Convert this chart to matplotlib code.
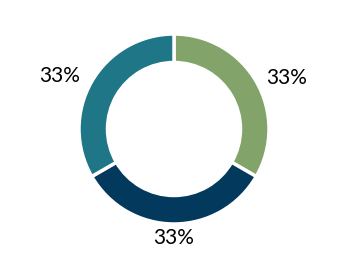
import matplotlib
matplotlib.use("Agg")
import matplotlib.pyplot as plt

# slice data, clockwise from 12 o'clock
shares = [1, 1, 1]
colors = ["#82A36A", "#03395C", "#1E7686"]
# label positions (data units, ring outer radius = 1)
label_pos = [(1.19, 0.54), (0.0, -1.15), (-1.20, 0.56)]

fig = plt.figure(figsize=(3.48, 2.60), dpi=100)
ax = fig.add_axes([0, 0, 1, 1])

wedges, texts, autotexts = ax.pie(
    shares,
    colors=colors,
    startangle=90,
    counterclock=False,
    radius=1.0,
    autopct="%.0f%%",
    pctdistance=1.25,
    wedgeprops=dict(width=0.30, edgecolor="white", linewidth=2.5),
)
for t, (x, y) in zip(autotexts, label_pos):
    t.set_position((x, y))
    t.set_ha("center")
    t.set_va("center")
    t.set_fontsize(15)
    t.set_color("black")
    t.set_family(["Lato", "DejaVu Sans"])

r = 95.0
ax.set_xlim(-174 / r, 174 / r)
ax.set_ylim(-131 / r, 129 / r)
ax.set_aspect("equal")
ax.axis("off")

fig.savefig("out.png", dpi=100)
